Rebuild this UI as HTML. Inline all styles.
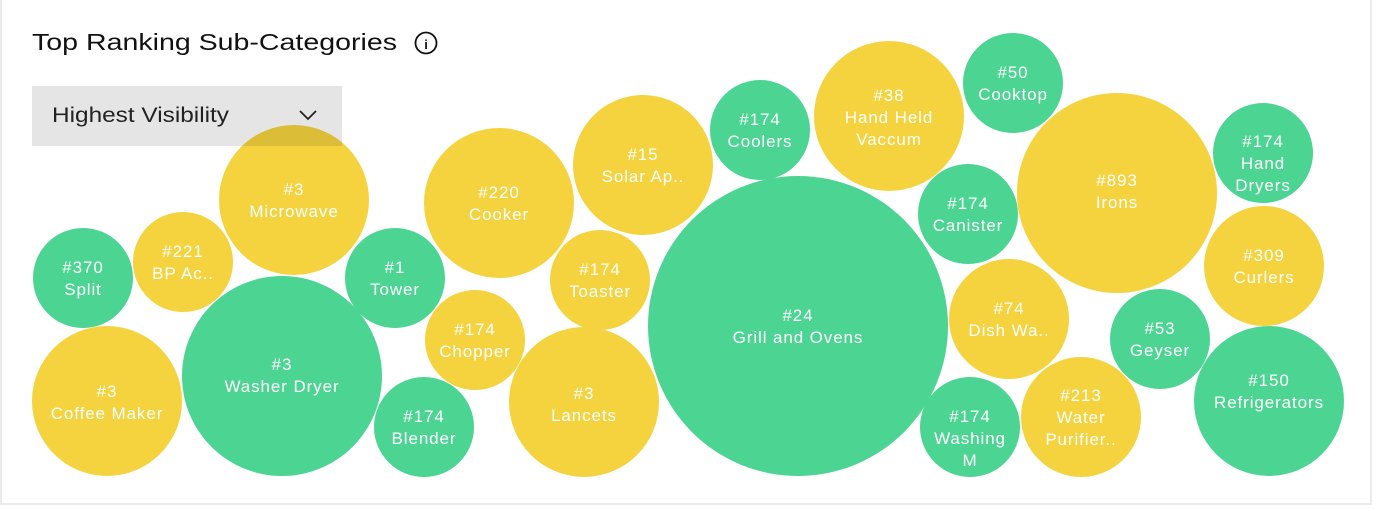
<!DOCTYPE html>
<html><head><meta charset="utf-8"><style>
html,body{margin:0;padding:0;background:#fff;}
body{width:1378px;height:509px;overflow:hidden;position:relative;font-family:"Liberation Sans",sans-serif;}
.card{position:absolute;left:0;top:0;width:1372px;height:505px;border:2px solid #ebebeb;border-top:none;box-sizing:border-box;}
svg{position:absolute;left:0;top:0;}
</style></head><body>
<div class="card"></div>
<svg width="1378" height="509" viewBox="0 0 1378 509" font-family="Liberation Sans, sans-serif">
<text x="32" y="50" font-size="23" fill="#111" textLength="365" lengthAdjust="spacingAndGlyphs">Top Ranking Sub-Categories</text>
<circle cx="426" cy="43" r="10.5" fill="none" stroke="#111" stroke-width="1.8"/>
<text x="426" y="49" font-size="13" text-anchor="middle" fill="#111" font-weight="bold">i</text>
<g fill="#4cd493">
<circle cx="83" cy="278" r="50"/>
<circle cx="395" cy="278" r="50"/>
<circle cx="282" cy="376" r="100"/>
<circle cx="424" cy="427" r="50"/>
<circle cx="760" cy="130" r="50"/>
<circle cx="798" cy="326" r="150"/>
<circle cx="1013" cy="83" r="50"/>
<circle cx="968" cy="214" r="50"/>
<circle cx="1263" cy="153" r="50"/>
<circle cx="1160" cy="339" r="50"/>
<circle cx="1269" cy="401" r="75"/>
<circle cx="970" cy="427" r="50"/>
</g>
<g fill="#f4d33f">
<circle cx="183" cy="262" r="50"/>
<circle cx="294" cy="200" r="75"/>
<circle cx="107" cy="401" r="75"/>
<circle cx="475" cy="340" r="50"/>
<circle cx="499" cy="203" r="75"/>
<circle cx="584" cy="402" r="75"/>
<circle cx="600" cy="280" r="50"/>
<circle cx="643" cy="165" r="70"/>
<circle cx="889" cy="116" r="75"/>
<circle cx="1117" cy="193" r="100"/>
<circle cx="1264" cy="266" r="60"/>
<circle cx="1009" cy="319" r="60"/>
<circle cx="1081" cy="417" r="60"/>
</g>
<rect x="32" y="86" width="310" height="60" fill="rgba(0,0,0,0.1)"/>
<text x="52" y="122" font-size="21" fill="#222" textLength="177" lengthAdjust="spacingAndGlyphs">Highest Visibility</text>
<polyline points="300,111 308,119 316,111" fill="none" stroke="#222" stroke-width="1.8"/>
<g fill="#fff" font-size="17" text-anchor="middle" letter-spacing="0.9">
<text x="83" y="273">#370</text><text x="83" y="295">Split</text>
<text x="183" y="257">#221</text><text x="183" y="279">BP Ac..</text>
<text x="294" y="195">#3</text><text x="294" y="217">Microwave</text>
<text x="395" y="273">#1</text><text x="395" y="295">Tower</text>
<text x="107" y="397">#3</text><text x="107" y="419">Coffee Maker</text>
<text x="282" y="370">#3</text><text x="282" y="392">Washer Dryer</text>
<text x="424" y="422">#174</text><text x="424" y="444">Blender</text>
<text x="475" y="335">#174</text><text x="475" y="357">Chopper</text>
<text x="499" y="198">#220</text><text x="499" y="220">Cooker</text>
<text x="584" y="399">#3</text><text x="584" y="421">Lancets</text>
<text x="600" y="275">#174</text><text x="600" y="297">Toaster</text>
<text x="643" y="160">#15</text><text x="643" y="182">Solar Ap..</text>
<text x="760" y="125">#174</text><text x="760" y="147">Coolers</text>
<text x="798" y="321">#24</text><text x="798" y="343">Grill and Ovens</text>
<text x="889" y="101">#38</text><text x="889" y="123">Hand Held</text><text x="889" y="145">Vaccum</text>
<text x="1013" y="78">#50</text><text x="1013" y="100">Cooktop</text>
<text x="968" y="209">#174</text><text x="968" y="231">Canister</text>
<text x="1117" y="186">#893</text><text x="1117" y="208">Irons</text>
<text x="1263" y="147">#174</text><text x="1263" y="169">Hand</text><text x="1263" y="191">Dryers</text>
<text x="1264" y="261">#309</text><text x="1264" y="283">Curlers</text>
<text x="1009" y="314">#74</text><text x="1009" y="336">Dish Wa..</text>
<text x="1160" y="334">#53</text><text x="1160" y="356">Geyser</text>
<text x="1269" y="386">#150</text><text x="1269" y="408">Refrigerators</text>
<text x="970" y="422">#174</text><text x="970" y="444">Washing</text><text x="970" y="466">M</text>
<text x="1081" y="401">#213</text><text x="1081" y="423">Water</text><text x="1081" y="445">Purifier..</text>
</g>
</svg>
</body></html>
